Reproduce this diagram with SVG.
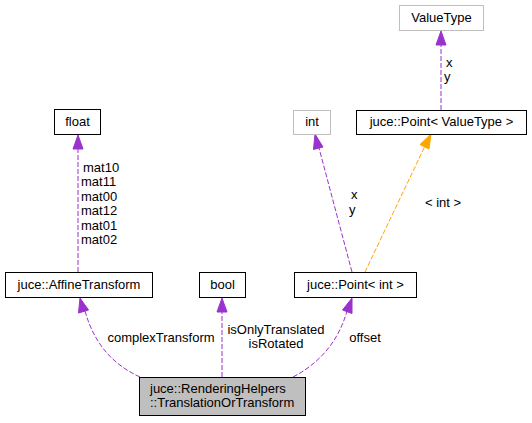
<svg xmlns="http://www.w3.org/2000/svg" width="532" height="423" viewBox="0 0 532 423">
<style>
text{font-family:"Liberation Sans",Arial,sans-serif;font-size:13px;fill:#000}
.n{fill:#fff;stroke:#000;stroke-width:1}
.g{fill:#fff;stroke:#bfbfbf;stroke-width:1}
.m{fill:#bfbfbf;stroke:#000;stroke-width:1}
.e{fill:none;stroke:#9a32cd;stroke-width:1;stroke-dasharray:5,2}
.o{fill:none;stroke:#ffa500;stroke-width:1;stroke-dasharray:5,2}
.ah{fill:#9a32cd;stroke:#9a32cd}
.oh{fill:#ffa500;stroke:#ffa500}
.c{text-anchor:middle}
</style>
<rect width="532" height="423" fill="#fff"/>
<g id="edges">
<path class="e" d="M78,272 L78,148"/>
<polygon class="ah" points="78,135 73,149 83,149"/>
<text x="83" y="172">mat10</text>
<text x="81" y="186">mat11</text>
<text x="81" y="201">mat00</text>
<text x="81" y="215">mat12</text>
<text x="81" y="230">mat01</text>
<text x="81" y="244">mat02</text>
<path class="e" d="M140,377 C116,366 95,347 85,311"/>
<polygon class="ah" points="80,298 78.5,313 88.5,310"/>
<text class="c" x="161" y="342">complexTransform</text>
<path class="e" d="M222,377 L222,311"/>
<polygon class="ah" points="222,298 217,312 227,312"/>
<text class="c" x="276" y="334">isOnlyTranslated</text>
<text class="c" x="276" y="348">isRotated</text>
<path class="e" d="M293,377 C318,364 338,343 347,311"/>
<polygon class="ah" points="352,298 342.5,310 352,313.5"/>
<text class="c" x="365" y="342">offset</text>
<path class="e" d="M352,272 L319,148"/>
<polygon class="ah" points="315,134 313.5,149.5 323,147"/>
<text x="351" y="199">x</text>
<text x="349" y="214">y</text>
<path class="o" d="M365,272 L425,146"/>
<polygon class="oh" points="431,134 420,144.5 429,149"/>
<text class="c" x="443" y="207">&lt; int &gt;</text>
<path class="e" d="M441,110 L441,44"/>
<polygon class="ah" points="441,31 436,45 446,45"/>
<text x="446" y="67">x</text>
<text x="444" y="81">y</text>
</g>
<g id="node-main">
<rect class="m" x="139.5" y="377.5" width="166" height="38"/>
<text x="150" y="393">juce::RenderingHelpers</text>
<text x="150" y="407">::TranslationOrTransform</text>
</g>
<g id="node-affine">
<rect class="n" x="5.5" y="272.5" width="147" height="25"/>
<text class="c" x="79" y="289">juce::AffineTransform</text>
</g>
<g id="node-float">
<rect class="n" x="54.5" y="109.5" width="46" height="25"/>
<text class="c" x="77.5" y="126">float</text>
</g>
<g id="node-bool">
<rect class="n" x="199.5" y="272.5" width="46" height="25"/>
<text class="c" x="222.5" y="289">bool</text>
</g>
<g id="node-pointint">
<rect class="n" x="294.5" y="272.5" width="122" height="25"/>
<text class="c" x="355.5" y="289">juce::Point&lt; int &gt;</text>
</g>
<g id="node-int">
<rect class="g" x="293.5" y="110.5" width="37" height="24"/>
<text class="c" x="312" y="126">int</text>
</g>
<g id="node-pointvt">
<rect class="n" x="356.5" y="110.5" width="170" height="24"/>
<text class="c" x="441.5" y="126">juce::Point&lt; ValueType &gt;</text>
</g>
<g id="node-valuetype">
<rect class="g" x="399.5" y="5.5" width="84" height="25"/>
<text class="c" x="441.5" y="22">ValueType</text>
</g>
</svg>
